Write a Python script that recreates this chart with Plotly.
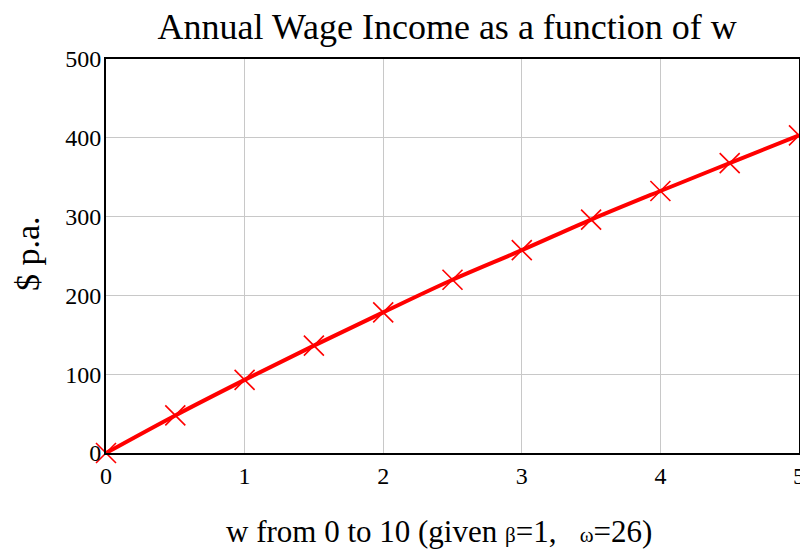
import plotly.graph_objects as go

w_values = [0, 0.5, 1, 1.5, 2, 2.5, 3, 3.5, 4, 4.5, 5]
income = [0, 47.7, 92.8, 136.3, 178.5, 219.8, 257.4, 296.2, 332.5, 367.9, 403]
x_ticks = [0, 1, 2, 3, 4, 5]
y_ticks = [0, 100, 200, 300, 400, 500]

font = "Liberation Serif, Times New Roman, serif"

fig = go.Figure()
fig.add_trace(go.Scatter(
    x=w_values, y=income, mode="lines",
    line=dict(color="#ff0000", width=4, shape="spline"),
    hoverinfo="skip", showlegend=False, cliponaxis=False,
))
fig.add_trace(go.Scatter(
    x=w_values, y=income, mode="markers",
    marker=dict(symbol="x-thin-open", size=20, color="#ff0000",
                line=dict(color="#ff0000", width=1.6)),
    showlegend=False, cliponaxis=False,
))

fig.update_layout(
    width=800, height=545,
    margin=dict(l=98, r=9, t=51, b=100),
    paper_bgcolor="white", plot_bgcolor="white",
    font=dict(family=font, color="black"),
    title=dict(text="Annual Wage Income as a function of w",
               x=0.549, xanchor="center", y=0.967, yanchor="middle",
               font=dict(size=36, family=font, color="black")),
    xaxis=dict(
        range=[0, 5], tickvals=x_ticks, ticktext=[str(v) for v in x_ticks],
        showgrid=True, gridcolor="#c8c8c8", gridwidth=1,
        showline=True, linecolor="black", linewidth=2, mirror=True,
        ticks="", zeroline=False, automargin=False,
        tickfont=dict(size=24, family=font, color="black"),
    ),
    yaxis=dict(
        range=[0, 500], tickvals=y_ticks, ticktext=[str(v) for v in y_ticks],
        showgrid=True, gridcolor="#c8c8c8", gridwidth=1,
        showline=True, linecolor="black", linewidth=2, mirror=True,
        ticks="", zeroline=False, ticklabelstandoff=-2, automargin=False,
        tickfont=dict(size=24, family=font, color="black"),
    ),
    annotations=[
        dict(text="w from 0 to 10 (given <span style='font-size:21px'>β</span>=1,   <span style='font-size:21px'>ω</span>=26)",
             xref="paper", yref="paper", x=0.480, y=-0.198, xanchor="center", yanchor="middle",
             showarrow=False, font=dict(size=31, family=font, color="black")),
        dict(text="$ p.a.", xref="paper", yref="paper", x=-0.114, y=0.5076,
             xanchor="center", yanchor="middle", textangle=-90,
             showarrow=False, font=dict(size=34, family=font, color="black")),
    ],
)

fig.write_html("out.html")
